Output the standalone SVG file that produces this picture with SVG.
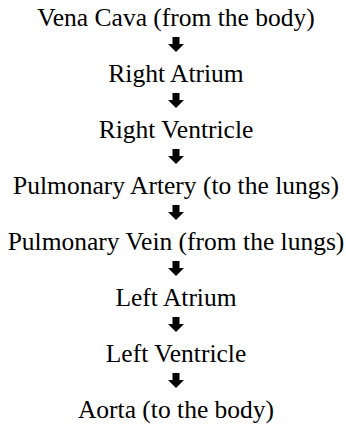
<svg xmlns="http://www.w3.org/2000/svg" width="346" height="433" viewBox="0 0 346 433">
<defs>
<style>
.t{font-family:"Liberation Serif","Times New Roman",serif;font-size:25.5px;fill:#000;text-anchor:middle}
.a{fill:#000}
</style>
<path id="arr" d="M-3.5,0 H3.5 V7 H8 L0,15 L-8,7 H-3.5 Z"/>
</defs>
<rect width="346" height="433" fill="#fff"/>
<g id="n0"><text class="t" x="176" y="26">Vena Cava (from the body)</text></g>
<g id="n1"><text class="t" x="176" y="82">Right Atrium</text></g>
<g id="n2"><text class="t" x="176" y="138">Right Ventricle</text></g>
<g id="n3"><text class="t" x="176" y="194">Pulmonary Artery (to the lungs)</text></g>
<g id="n4"><text class="t" x="176" y="250">Pulmonary Vein (from the lungs)</text></g>
<g id="n5"><text class="t" x="176" y="306">Left Atrium</text></g>
<g id="n6"><text class="t" x="176" y="362">Left Ventricle</text></g>
<g id="n7"><text class="t" x="176" y="418">Aorta (to the body)</text></g>
<g id="connectors" class="a">
<use href="#arr" x="176" y="37"/>
<use href="#arr" x="176" y="93"/>
<use href="#arr" x="176" y="149"/>
<use href="#arr" x="176" y="205"/>
<use href="#arr" x="176" y="261"/>
<use href="#arr" x="176" y="317"/>
<use href="#arr" x="176" y="373"/>
</g>
</svg>
